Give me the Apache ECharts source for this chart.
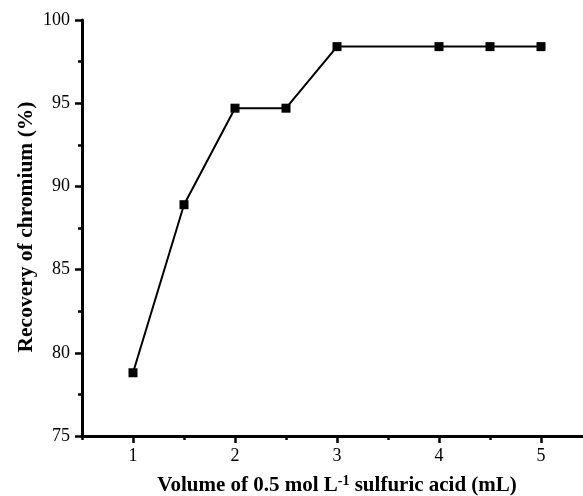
<!DOCTYPE html>
<html>
<head>
<meta charset="utf-8">
<script src="https://cdn.jsdelivr.net/npm/echarts@6/dist/echarts.min.js"></script>
<style>html,body{margin:0;padding:0;background:#fff}#c{width:583px;height:496px}</style>
</head>
<body>
<div id="c"></div>
<script>
var volumes = [1, 1.5, 2, 2.5, 3, 4, 4.5, 5];
var recovery = [78.8, 88.9, 94.7, 94.7, 98.4, 98.4, 98.4, 98.4];
var xMajorTicks = [1, 2, 3, 4, 5];
var xMinorTicks = [0.5, 1.5, 2.5, 3.5, 4.5];
var yTicks = [75, 80, 85, 90, 95, 100];

var FONT = '"Liberation Serif", "Times New Roman", serif';
var chart = echarts.init(document.getElementById('c'), null, {renderer: 'canvas'});
var pts = volumes.map(function (v, i) { return [v, recovery[i]]; });

chart.setOption({
  animation: false,
  backgroundColor: '#fff',
  grid: {left: 82, top: 20, right: -9, bottom: 60, containLabel: false, outerBoundsMode: 'none'},
  xAxis: [{
    type: 'value', min: 0.5, max: 5.5, interval: 0.5,
    axisLine: {lineStyle: {color: '#000', width: 3}},
    axisTick: {show: true, inside: false, length: 7, lineStyle: {color: '#000', width: 2.5}, customValues: xMajorTicks},
    axisLabel: {customValues: xMajorTicks, color: '#000', fontFamily: FONT, fontSize: 18, margin: 11},
    splitLine: {show: false}
  }, {
    type: 'value', min: 0.5, max: 5.5, interval: 0.5, position: 'bottom',
    axisLine: {show: false},
    axisTick: {show: true, length: 4, lineStyle: {color: '#000', width: 2.5}, customValues: xMinorTicks},
    axisLabel: {show: false},
    splitLine: {show: false}
  }],
  yAxis: {
    type: 'value', min: yTicks[0], max: yTicks[yTicks.length - 1], interval: 5,
    axisLine: {show: true, lineStyle: {color: '#000', width: 3}},
    axisTick: {show: true, length: 7, lineStyle: {color: '#000', width: 2.5}},
    minorTick: {show: true, splitNumber: 2, length: 4, lineStyle: {color: '#000', width: 2.5}},
    axisLabel: {color: '#000', fontFamily: FONT, fontSize: 18, margin: 12},
    splitLine: {show: false}
  },
  graphic: [{
    type: 'text', x: 337, y: 486,
    style: {
      x: 0, y: 0,
      text: '{b|Volume of 0.5 mol L}{s|-1}{b| sulfuric acid (mL)}',
      align: 'center', verticalAlign: 'middle',
      rich: {
        b: {fontFamily: FONT, fontWeight: 'bold', fontSize: 21, fill: '#000'},
        s: {fontFamily: FONT, fontWeight: 'bold', fontSize: 14, fill: '#000', verticalAlign: 'top', padding: [0, 0, 10, 0]}
      }
    }
  }, {
    type: 'text', x: 26, y: 227, rotation: Math.PI / 2,
    style: {
      x: 0, y: 0,
      text: 'Recovery of chromium (%)',
      align: 'center', verticalAlign: 'middle',
      fontFamily: FONT, fontWeight: 'bold', fontSize: 21.5, fill: '#000'
    }
  }],
  series: [{
    type: 'line', data: pts, xAxisIndex: 0,
    symbol: 'rect', symbolSize: 9,
    lineStyle: {color: '#000', width: 2},
    itemStyle: {color: '#000'}
  }]
});
</script>
</body>
</html>
